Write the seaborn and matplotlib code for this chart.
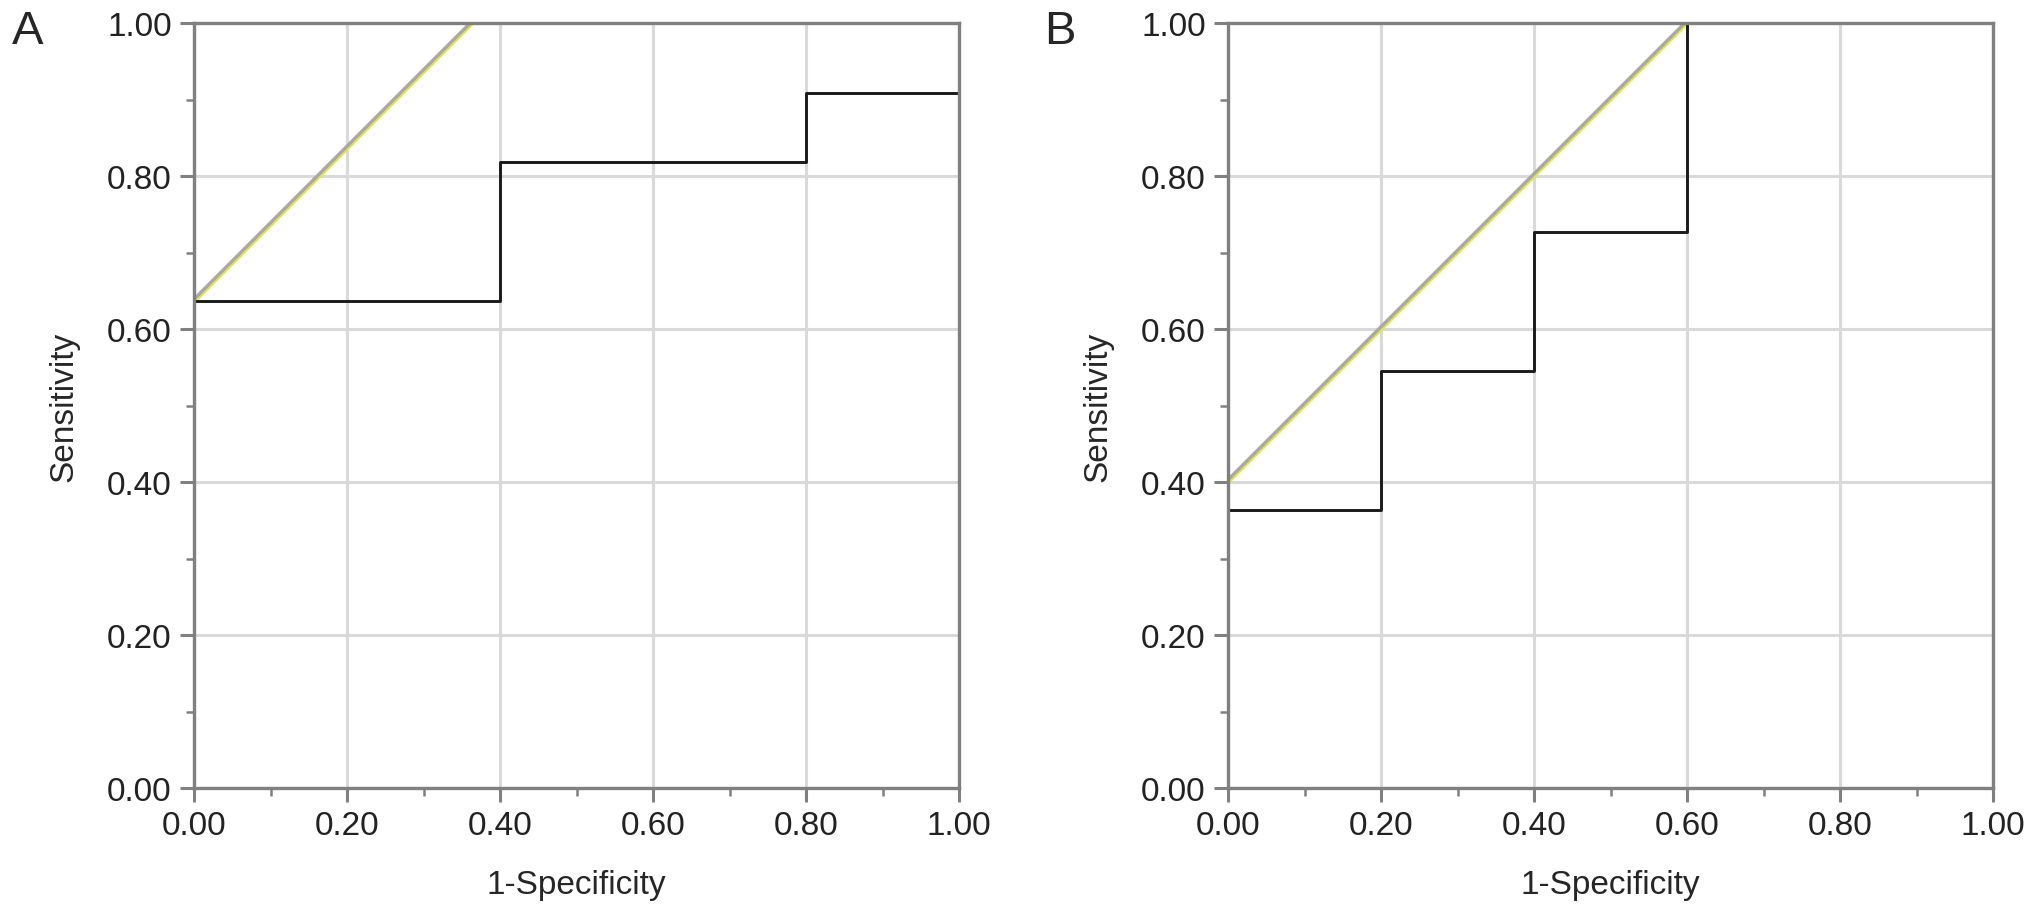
import numpy as np
import pandas as pd
import matplotlib
matplotlib.use("Agg")
import matplotlib.pyplot as plt
import matplotlib.transforms as mtransforms
from matplotlib.ticker import MultipleLocator, FormatStrFormatter
import seaborn as sns

# ROC step curves
roc_a_fpr = [0.0, 0.0, 0.4, 0.4, 0.8, 0.8, 1.0, 1.0]
roc_a_tpr = [0.0, 0.636, 0.636, 0.818, 0.818, 0.909, 0.909, 1.0]
roc_b_fpr = [0.0, 0.0, 0.2, 0.2, 0.4, 0.4, 0.6, 0.6, 1.0]
roc_b_tpr = [0.0, 0.364, 0.364, 0.545, 0.545, 0.727, 0.727, 1.0, 1.0]

# reference (diagonal) lines
diag_a_x = [0.0, 0.364]
diag_a_y = [0.636, 1.0]
diag_b_x = [0.0, 0.6]
diag_b_y = [0.4, 1.0]

panel_labels = ["A", "B"]

sns.set_style("white")
plt.rcParams['font.family'] = ['Liberation Sans', 'DejaVu Sans']

fig = plt.figure(figsize=(20.32, 9.12), dpi=100)
W, H = 2032, 912
ax_a = fig.add_axes([194 / W, 1 - 789 / H, 765 / W, 765 / H])
ax_b = fig.add_axes([1228 / W, 1 - 789 / H, 765 / W, 765 / H])

panels = [
    (ax_a, roc_a_fpr, roc_a_tpr, diag_a_x, diag_a_y),
    (ax_b, roc_b_fpr, roc_b_tpr, diag_b_x, diag_b_y),
]

fs = 24
for (ax, fx, ty, dx, dy), lab in zip(panels, panel_labels):
    ax.set_xlim(0, 1)
    ax.set_ylim(0, 1)
    ax.xaxis.set_major_locator(MultipleLocator(0.2))
    ax.yaxis.set_major_locator(MultipleLocator(0.2))
    ax.xaxis.set_minor_locator(MultipleLocator(0.1))
    ax.yaxis.set_minor_locator(MultipleLocator(0.1))
    ax.xaxis.set_major_formatter(FormatStrFormatter('%.2f'))
    ax.yaxis.set_major_formatter(FormatStrFormatter('%.2f'))
    ax.grid(True, which='major', color='#d9d9d9', linewidth=2.2)
    ax.set_axisbelow(True)

    # yellow / grey diagonal
    sns.lineplot(x=dx, y=dy, ax=ax, color='#e6e63c', linewidth=3.0, estimator=None, sort=False)
    off = mtransforms.offset_copy(ax.transData, fig=fig, x=-0.8, y=0.8, units='points')
    ax.plot(dx, dy, color='#a8a8a8', linewidth=2.4, transform=off)

    df = pd.DataFrame({'fpr': fx, 'tpr': ty})
    sns.lineplot(data=df, x='fpr', y='tpr', ax=ax, color='#1a1a1a', linewidth=2.1,
                 estimator=None, sort=False, drawstyle='steps-post')

    for s in ax.spines.values():
        s.set_color('#808080')
        s.set_linewidth(2.4)
    ax.tick_params(which='major', direction='out', length=10, width=2.2, color='#808080',
                   labelsize=fs, labelcolor='#222222', pad=6,
                   bottom=True, left=True)
    ax.tick_params(which='minor', direction='out', length=6, width=1.8, color='#808080',
                   bottom=True, left=True)
    ax.set_xlabel('1-Specificity', fontsize=fs, labelpad=20)
    ax.set_ylabel('Sensitivity', fontsize=fs, labelpad=20)

fig.text(12 / W, 1 - 10 / H, panel_labels[0], fontsize=34, va='top', ha='left')
fig.text(1044 / W, 1 - 10 / H, panel_labels[1], fontsize=34, va='top', ha='left')

fig.savefig('out.png', dpi=100)
